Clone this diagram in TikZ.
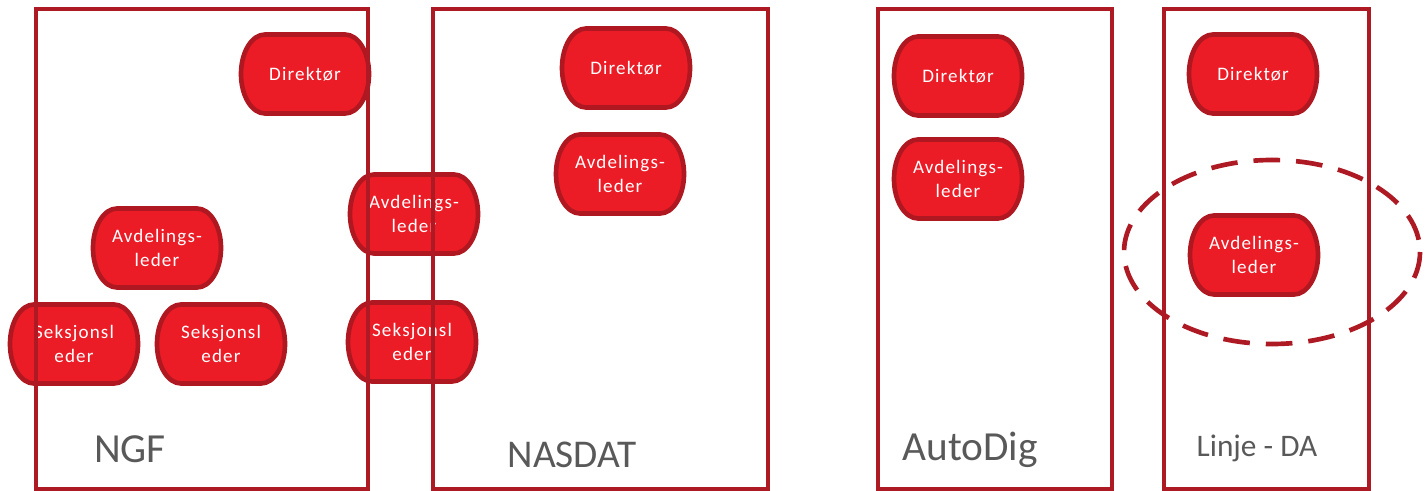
\documentclass[tikz,border=0pt]{standalone}
\usepackage{fontspec}
\setmainfont{Carlito}
\newfontfamily\bubfont[LetterSpace=6]{Carlito}
\definecolor{frame}{HTML}{AE1A23}
\definecolor{bubred}{HTML}{EC1C27}
\definecolor{bubedge}{HTML}{AF1820}
\definecolor{labgray}{HTML}{595959}
\tikzset{
  bubshape/.style={fill=bubred, draw=bubedge, line width=3.5},
  bubtext/.style={text=white, align=center, inner sep=0pt, font=\fontsize{14.3}{18}\bubfont},
  orgbox/.style={draw=frame, line width=3.5},
  orglabel/.style={text=labgray, anchor=base, inner sep=0pt},
  circle group/.style={draw=frame, line width=3.5, dash pattern=on 20 off 12},
}
% name, x, y, text  (width 128, height 79, end depth 24)
\newcommand\bubble[4]{%
  \path[bubshape] (#2-40,#3-39.5) -- (#2+40,#3-39.5)
    arc[start angle=-90, end angle=90, x radius=24, y radius=39.5]
    -- (#2-40,#3+39.5)
    arc[start angle=90, end angle=270, x radius=24, y radius=39.5] -- cycle;
  \node[bubtext] (#1) at (#2,#3) {#4};}
\begin{document}
\begin{tikzpicture}[x=0.75pt,y=-0.75pt]
\useasboundingbox (0,0) rectangle (1426,491);
% nodes
\bubble{ngfdir}{305}{74}{Direktør}
\bubble{ngfavd}{157}{248}{Avdelings-\\leder}
\bubble{ngfsek1}{74}{344}{Seksjonsl\\eder}
\bubble{ngfsek2}{221}{344}{Seksjonsl\\eder}
\bubble{midavd}{414}{214}{Avdelings-\\leder}
\bubble{midsek}{412}{342}{Seksjonsl\\eder}
\bubble{nasdir}{626}{68}{Direktør}
\bubble{nasavd}{620}{174}{Avdelings-\\leder}
\bubble{autdir}{958}{76}{Direktør}
\bubble{autavd}{958}{179}{Avdelings-\\leder}
\bubble{lindir}{1253}{74}{Direktør}
\bubble{linavd}{1254}{255}{Avdelings-\\leder}
% frames
\draw[orgbox] (36,9) rectangle (368,489);
\draw[orgbox] (433,9) rectangle (768,489);
\draw[orgbox] (878,9) rectangle (1112,489);
\draw[orgbox] (1164,9) rectangle (1369,489);
% dashed ellipse
\draw[circle group] (1272,252) ellipse[x radius=148, y radius=92];
% labels
\node[orglabel, font=\fontsize{31}{36}\selectfont] (lngf) at (130,462) {NGF};
\node[orglabel, font=\fontsize{29.5}{34}\selectfont] (lnas) at (572,467) {NASDAT};
\node[orglabel, font=\fontsize{31}{36}\selectfont] (laut) at (970,460) {AutoDig};
\node[orglabel, font=\fontsize{23.5}{28}\selectfont] (llin) at (1257,456) {Linje - DA};
\end{tikzpicture}
\end{document}
